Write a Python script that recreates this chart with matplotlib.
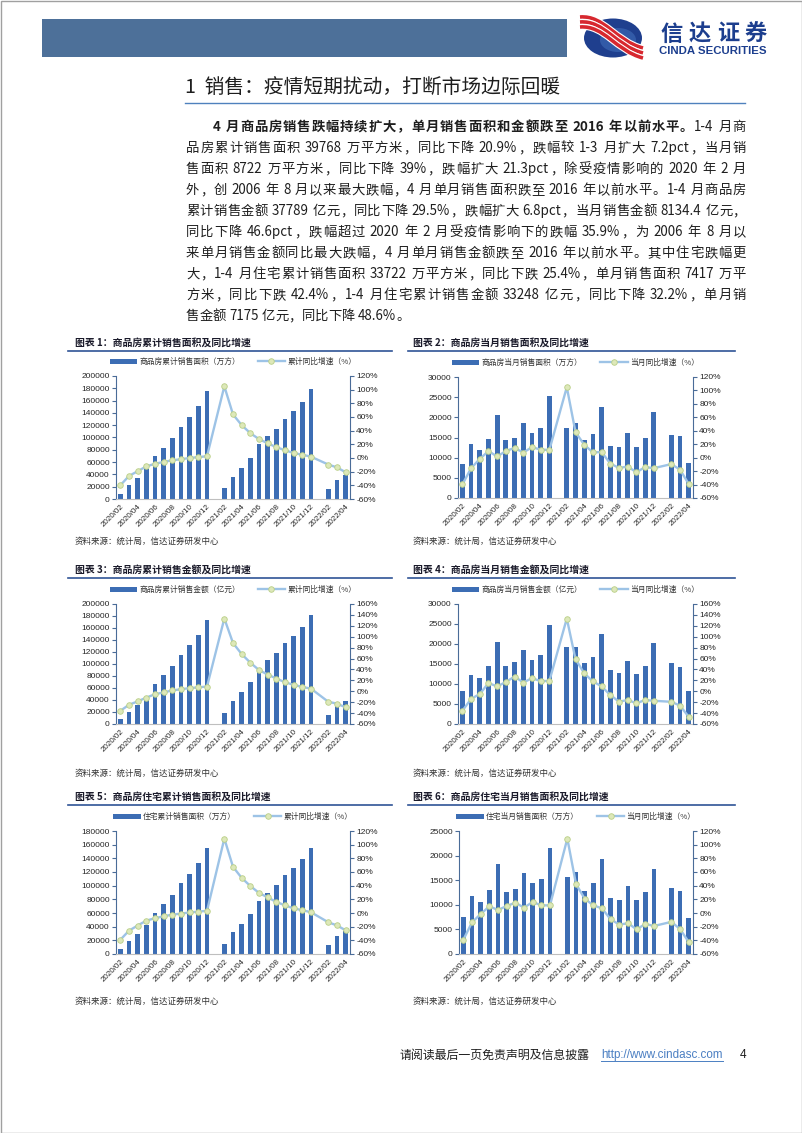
import re
import numpy as np
import matplotlib
matplotlib.use('Agg')
import matplotlib.pyplot as plt
from matplotlib.patches import Rectangle, Ellipse, Patch, PathPatch
from matplotlib.lines import Line2D
from matplotlib.path import Path

plt.rcParams['font.family'] = ['Noto Sans CJK SC', 'DejaVu Sans']

W, H = 802, 1133
nan = np.nan

# 月份（1月数据与2月合并，空缺）
months = ['2020/02', '2020/03', '2020/04', '2020/05', '2020/06', '2020/07', '2020/08',
          '2020/09', '2020/10', '2020/11', '2020/12', '2021/01', '2021/02', '2021/03',
          '2021/04', '2021/05', '2021/06', '2021/07', '2021/08', '2021/09', '2021/10',
          '2021/11', '2021/12', '2022/01', '2022/02', '2022/03', '2022/04']

# 图表1 商品房累计销售面积（万方）及累计同比（%）
area_cum = [8475, 21978, 33973, 48703, 69404, 83667, 98486, 117073, 133294, 150697, 176086, nan,
            17363, 36007, 50310, 66194, 88635, 101643, 114193, 130332, 142999, 157792, 179433, nan,
            15703, 31046, 39768]
area_cum_yoy = [-39.9, -26.3, -19.3, -12.3, -8.4, -5.8, -3.3, -1.8, 0.0, 1.3, 2.6, nan,
                104.9, 63.8, 48.1, 36.3, 27.7, 21.5, 15.9, 11.3, 7.3, 4.8, 1.9, nan,
                -9.6, -13.8, -20.9]

# 图表2 商品房当月销售面积
area_mon = [8475, 13503, 11995, 14730, 20701, 14263, 14819, 18587, 16221, 17403, 25389, nan,
            17363, 18644, 14303, 15884, 22441, 13008, 12550, 16139, 12667, 14793, 21350, nan,
            15703, 15343, 8722]
area_mon_yoy = [-39.9, -15.8, -1.8, 9.7, 1.8, 9.9, 14.5, 7.6, 15.6, 12.0, 11.5, nan,
                104.9, 38.1, 19.2, 7.8, 8.4, -8.8, -15.3, -13.2, -21.7, -14.0, -15.6, nan,
                -9.6, -17.7, -39.0]

# 图表3 商品房累计销售金额（亿元）
sales_cum = [8203, 20365, 31800, 45500, 66895, 81206, 96498, 115647, 131734, 149117, 173613, nan,
             19151, 38238, 53337, 69816, 92931, 106435, 118955, 134795, 147151, 162008, 181930, nan,
             15303, 29655, 37789]
sales_cum_yoy = [-35.9, -24.7, -18.6, -11.6, -5.4, -2.1, 1.6, 3.7, 5.8, 7.2, 8.7, nan,
                 133.4, 88.5, 68.2, 52.4, 38.9, 30.7, 23.4, 16.6, 11.8, 8.0, 4.8, nan,
                 -19.3, -22.7, -29.5]

# 图表4 商品房当月销售金额
sales_mon = [8203, 12140, 11470, 14380, 20600, 14460, 15540, 18620, 15960, 17290, 24690, nan,
             19151, 19200, 15210, 16870, 22440, 13470, 12720, 15710, 12470, 14460, 20370, nan,
             15303, 14130, 8134]
sales_mon_yoy = [-35.9, -14.0, -5.0, 15.0, 9.0, 17.0, 27.0, 16.0, 24.0, 18.6, 19.0, nan,
                 133.4, 59.0, 33.0, 18.0, 9.0, -7.0, -19.0, -16.0, -22.0, -16.0, -17.4, nan,
                 -19.3, -26.2, -46.6]

# 图表5 住宅累计销售面积
res_cum = [7400, 18500, 29700, 41800, 60700, 72900, 86500, 103300, 117400, 133000, 154400, nan,
           15200, 31500, 44100, 58700, 78100, 89800, 100400, 115000, 125700, 138300, 155800, nan,
           13200, 25800, 33722]
res_cum_yoy = [-39.2, -25.9, -18.3, -11.2, -7.6, -4.8, -2.3, -0.9, 0.8, 2.0, 3.2, nan,
               108.9, 67.6, 51.4, 39.5, 29.4, 22.8, 16.2, 11.2, 6.7, 4.1, 1.1, nan,
               -13.6, -18.2, -25.4]

# 图表6 住宅当月销售面积
res_mon = [7510, 11790, 10640, 13010, 18230, 12670, 13280, 16400, 14360, 15180, 21480, nan,
           15580, 16670, 12800, 14430, 19310, 11450, 11040, 13820, 10910, 12670, 17280, nan,
           13410, 12800, 7417]
res_mon_yoy = [-39.2, -13.7, -1.5, 9.8, 4.4, 10.2, 15.1, 7.8, 16.1, 11.2, 11.2, nan,
               108.9, 42.4, 21.0, 11.2, 6.8, -9.3, -17.0, -15.0, -24.0, -16.0, -19.0, nan,
               -13.0, -23.4, -42.4]

BAR = '#3C6DB4'
LINE = '#9DC3E6'
MFC = '#DDE8B9'
MEC = '#B9CF86'
SPINE = '#4A6C98'
TXT = '#1E1E1E'

fig = plt.figure(figsize=(W / 100, H / 100), dpi=100)
bg = fig.add_axes([0, 0, 1, 1], zorder=0)
bg.set_xlim(0, W)
bg.set_ylim(H, 0)
bg.axis('off')
r = fig.canvas.get_renderer()

# 页面边框
bg.add_patch(Rectangle((0.5, 0.5), W - 1, H - 1, fill=False, ec='#A0A0A0', lw=1))

# 页眉
bg.add_patch(Rectangle((42, 19), 525, 38, fc='#4D7099', ec='none'))
bg.add_patch(Ellipse((613, 38), 58, 39, fc='#1F3F8E', ec='none'))
bg.add_patch(Ellipse((618, 40), 36, 24, fc='#3B66B3', ec='none', alpha=0.7))
for dy in (-5, 0, 5):
    p = Path([(580, 22 + dy), (604, 20 + dy), (616, 46 + dy), (643, 53 + dy)],
             [Path.MOVETO, Path.CURVE4, Path.CURVE4, Path.CURVE4])
    bg.add_patch(PathPatch(p, fc='none', ec='white', lw=4.2, capstyle='butt'))
    bg.add_patch(PathPatch(p, fc='none', ec='#D7282F', lw=2.6, capstyle='butt'))
for k, ch in enumerate('信达证券'):
    bg.text(672 + k * 28, 34, ch, fontsize=16, fontweight='bold', color='#1C3E8E',
            ha='center', va='center')
bg.text(713, 51.5, 'CINDA SECURITIES', fontsize=8.2, fontweight='bold', color='#1C3E8E',
        ha='center', va='center', family='Liberation Sans')

# 标题
bg.text(185, 88, '1  销售：疫情短期扰动，打断市场边际回暖', fontsize=14.2, color=TXT,
        ha='left', va='center')
bg.plot([185, 745], [102.5, 102.5], color='#4F81BD', lw=1)

# 正文（两端对齐）
PF = 9.6


def para_line(segs, x0, x1, y, justify=True):
    items = []
    for s, w in segs:
        for t in re.findall(r'[A-Za-z0-9.%\-]+| |.', s):
            if t == ' ':
                items.append((None, 3.0))
            else:
                tx = bg.text(0, y, t, fontsize=PF, fontweight=w, color=TXT,
                             ha='left', va='center')
                items.append((tx, tx.get_window_extent(r).width))
    total = sum(wd for _, wd in items)
    gap = (x1 - x0 - total) / (len(items) - 1) if justify else 0.0
    x = x0
    for tx, wd in items:
        if tx is not None:
            tx.set_x(x)
        x += wd + gap


para = [
    [('4 月商品房销售跌幅持续扩大，单月销售面积和金额跌至 2016 年以前水平。', 'bold'), ('1-4 月商', 'normal')],
    [('品房累计销售面积 39768 万平方米，同比下降 20.9%，跌幅较 1-3 月扩大 7.2pct，当月销', 'normal')],
    [('售面积 8722 万平方米，同比下降 39%，跌幅扩大 21.3pct，除受疫情影响的 2020 年 2 月', 'normal')],
    [('外，创 2006 年 8 月以来最大跌幅，4 月单月销售面积跌至 2016 年以前水平。1-4 月商品房', 'normal')],
    [('累计销售金额 37789 亿元，同比下降 29.5%，跌幅扩大 6.8pct，当月销售金额 8134.4 亿元，', 'normal')],
    [('同比下降 46.6pct，跌幅超过 2020 年 2 月受疫情影响下的跌幅 35.9%，为 2006 年 8 月以', 'normal')],
    [('来单月销售金额同比最大跌幅，4 月单月销售金额跌至 2016 年以前水平。其中住宅跌幅更', 'normal')],
    [('大，1-4 月住宅累计销售面积 33722 万平方米，同比下跌 25.4%，单月销售面积 7417 万平', 'normal')],
    [('方米，同比下跌 42.4%，1-4 月住宅累计销售金额 33248 亿元，同比下降 32.2%，单月销', 'normal')],
    [('售金额 7175 亿元，同比下降 48.6%。', 'normal')],
]
for i, segs in enumerate(para):
    y = 127 + i * 21
    x0 = 213 if i == 0 else 186
    para_line(segs, x0, 746, y, justify=(i < len(para) - 1))


def chart(box, cap_x, line_x, cap_y, num, title, bars, line, names,
          ymax, ystep, rlo, rhi, rstep, src_y):
    left, top, right, bottom = box
    bg.text(cap_x, cap_y, f'图表 {num}：{title}', fontsize=7.1, fontweight='bold',
            color='#1A1A2A', ha='left', va='center')
    bg.plot(line_x, [cap_y + 8, cap_y + 8], color='#2F5496', lw=1.2)
    bg.text(cap_x, src_y, '资料来源：统计局，信达证券研发中心', fontsize=6.1,
            color='#333333', ha='left', va='center')

    ax = fig.add_axes([left / W, 1 - bottom / H, (right - left) / W, (bottom - top) / H], zorder=2)
    x = np.arange(len(months))
    ax.bar(x, np.array(bars, dtype=float), width=0.55, color=BAR, zorder=2)
    ax.set_xlim(-0.5, len(months) - 0.5)
    ax.set_ylim(0, ymax)
    ax.set_yticks(np.arange(0, ymax + 1, ystep))
    ax.yaxis.set_major_formatter(lambda v, p: f'{int(v)}')
    ax.set_xticks(x[::2])
    ax.set_xticklabels(months[::2], rotation=45, ha='right', va='top',
                       rotation_mode='anchor', fontsize=5.8, family='Liberation Sans')
    ax.tick_params(axis='x', length=0, pad=3, labelcolor='#262626')
    ax.tick_params(axis='y', length=3, width=0.8, color=SPINE, labelsize=6.0,
                   pad=1.5, labelcolor='#262626')
    for t in ax.get_yticklabels():
        t.set_family('Liberation Sans')
    ax.spines['top'].set_visible(False)
    ax.spines['right'].set_visible(False)
    ax.spines['left'].set_color(SPINE)
    ax.spines['bottom'].set_color('#BFBFBF')
    ax.patch.set_alpha(0)

    ax2 = ax.twinx()
    yv = np.array(line, dtype=float)
    m = ~np.isnan(yv)
    ax2.plot(x[m], yv[m], color=LINE, lw=1.7, marker='o', ms=4,
             mfc=MFC, mec=MEC, mew=0.6, zorder=3)
    ax2.set_ylim(rlo, rhi)
    ax2.set_yticks(np.arange(rlo, rhi + 1, rstep))
    ax2.yaxis.set_major_formatter(lambda v, p: f'{int(v)}%')
    ax2.tick_params(axis='y', length=3, width=0.8, color=SPINE, labelsize=6.0,
                    pad=1.5, labelcolor='#262626')
    for t in ax2.get_yticklabels():
        t.set_family('Liberation Sans')
    for s in ('top', 'left', 'bottom'):
        ax2.spines[s].set_visible(False)
    ax2.spines['right'].set_color(SPINE)

    handles = [Patch(fc=BAR, ec='none'),
               Line2D([], [], color=LINE, lw=1.7, marker='o', ms=4, mfc=MFC, mec=MEC, mew=0.6)]
    leg = ax2.legend(handles, names, loc='center', ncol=2, frameon=False,
                     bbox_to_anchor=(0.5, 1 + 14 / (bottom - top)), fontsize=5.6,
                     handlelength=3.5, handleheight=0.7, handletextpad=0.3,
                     columnspacing=2.3, borderaxespad=0)
    for t in leg.get_texts():
        t.set_color('#333333')


L = (68, 392)
R = (408, 735)
chart((116, 376, 350, 499), 75, L, 343, 1, '商品房累计销售面积及同比增速',
      area_cum, area_cum_yoy, ['商品房累计销售面积（万方）', '累计同比增速（%）'],
      200000, 20000, -60, 120, 20, 541)
chart((458, 377, 693, 498), 413, R, 343, 2, '商品房当月销售面积及同比增速',
      area_mon, area_mon_yoy, ['商品房当月销售面积（万方）', '当月同比增速（%）'],
      30000, 5000, -60, 120, 20, 541)
chart((116, 604, 350, 724), 75, L, 570, 3, '商品房累计销售金额及同比增速',
      sales_cum, sales_cum_yoy, ['商品房累计销售金额（亿元）', '累计同比增速（%）'],
      200000, 20000, -60, 160, 20, 773)
chart((458, 604, 693, 724), 413, R, 570, 4, '商品房当月销售金额及同比增速',
      sales_mon, sales_mon_yoy, ['商品房当月销售金额（亿元）', '当月同比增速（%）'],
      30000, 5000, -60, 160, 20, 773)
chart((116, 831, 350, 954), 75, L, 797, 5, '商品房住宅累计销售面积及同比增速',
      res_cum, res_cum_yoy, ['住宅累计销售面积（万方）', '累计同比增速（%）'],
      180000, 20000, -60, 120, 20, 1001)
chart((459, 831, 693, 954), 413, R, 797, 6, '商品房住宅当月销售面积及同比增速',
      res_mon, res_mon_yoy, ['住宅当月销售面积（万方）', '当月同比增速（%）'],
      25000, 5000, -60, 120, 20, 1001)

# 页脚
bg.text(400, 1055, '请阅读最后一页免责声明及信息披露', fontsize=8.6, color=TXT,
        ha='left', va='center')
url = bg.text(601, 1055, 'http://www.cindasc.com', fontsize=8.4, color='#4A7EC2',
              ha='left', va='center', family='Liberation Sans')
uw = url.get_window_extent(r).width
bg.plot([601, 601 + uw], [1061, 1061], color='#4A7EC2', lw=0.7)
bg.text(740, 1055, '4', fontsize=8.6, color=TXT, ha='left', va='center',
        family='Liberation Sans')

fig.savefig('out.png', dpi=100)
